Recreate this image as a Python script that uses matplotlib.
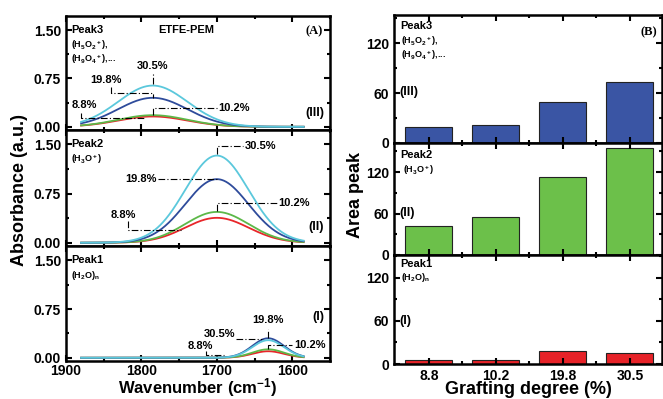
import numpy as np
import matplotlib
matplotlib.use('Agg')
import matplotlib.pyplot as plt
from matplotlib.ticker import MultipleLocator, FixedLocator

plt.rcParams['font.family'] = ['Liberation Sans', 'DejaVu Sans']
plt.rcParams['font.weight'] = 'bold'
plt.rcParams['axes.labelweight'] = 'bold'
plt.rcParams['mathtext.default'] = 'bf'
plt.rcParams['mathtext.fontset'] = 'custom'
plt.rcParams['mathtext.bf'] = 'Liberation Sans:bold'
plt.rcParams['mathtext.rm'] = 'Liberation Sans:bold'

# grafting degrees (%)
grafting = ['8.8', '10.2', '19.8', '30.5']
curve_colors = ['#e8262a', '#5cb848', '#2e4b9b', '#5bc8dc']
bar_colors = {'Peak3': '#3a55a4', 'Peak2': '#6cc04a', 'Peak1': '#e62228'}

# fitted gaussian peaks: centre, width (sigma), heights per grafting degree
peak3_center, peak3_sigma = 1785, 46
peak3_height = [0.16, 0.18, 0.45, 0.64]
peak2_center, peak2_sigma = 1700, 42
peak2_height = [0.38, 0.47, 0.97, 1.33]
peak1_center, peak1_sigma = 1632, 21
peak1_height = [0.10, 0.13, 0.30, 0.27]

# peak areas, panel (B)
area_peak3 = [19, 22, 49, 73]
area_peak2 = [42, 55, 113, 155]
area_peak1 = [6, 6, 18, 15]

wn = np.linspace(1880, 1585, 400)

W, H = 663, 399
fig = plt.figure(figsize=(W / 100, H / 100), dpi=100)


def fpos(x0, y0, x1, y1):
    # pixel box -> figure fraction
    return [x0 / W, 1 - y1 / H, (x1 - x0) / W, (y1 - y0) / H]


def style(ax):
    for s in ax.spines.values():
        s.set_linewidth(1.8)
    ax.tick_params(which='both', direction='in', top=True, right=True, width=1.5, labelsize=10)
    ax.tick_params(which='major', length=4)
    ax.tick_params(which='minor', length=2.5)


def leader(ax, xs, ys):
    ax.plot(xs, ys, color='black', lw=0.8, ls=(0, (6, 2, 1, 2)))


left_boxes = [(66, 16, 330, 130), (66, 130, 330, 246), (66, 246, 330, 361)]
peaks = [(peak3_center, peak3_sigma, peak3_height),
         (peak2_center, peak2_sigma, peak2_height),
         (peak1_center, peak1_sigma, peak1_height)]
axA = []
for box, (c, s, hs) in zip(left_boxes, peaks):
    ax = fig.add_axes(fpos(*box))
    for h, col in zip(hs, curve_colors):
        ax.plot(wn, h * np.exp(-(wn - c) ** 2 / (2 * s ** 2)), color=col, lw=1.3)
    ax.set_xlim(1900, 1550)
    ax.set_ylim(-0.05, 1.72)
    ax.yaxis.set_major_locator(FixedLocator([0, 0.75, 1.5]))
    ax.yaxis.set_minor_locator(FixedLocator([0.375, 1.125]))
    ax.yaxis.set_major_formatter(plt.FuncFormatter(lambda v, _: f'{v:.2f}'))
    ax.xaxis.set_major_locator(MultipleLocator(100))
    ax.xaxis.set_minor_locator(MultipleLocator(50))
    style(ax)
    axA.append(ax)

for ax in axA[:2]:
    ax.tick_params(labelbottom=False)

a3, a2, a1 = axA
a1.tick_params(axis='x', pad=2)
fs = 8
# panel III
a3.text(1893, 1.5, 'Peak3', fontsize=8, va='center')
a3.text(1893, 1.27, r'(H$_5$O$_2$$^+$),', fontsize=6.5, va='center')
a3.text(1893, 1.05, r'(H$_9$O$_4$$^+$),...', fontsize=6.5, va='center')
a3.text(1740, 1.5, 'ETFE-PEM', fontsize=8, ha='center', va='center')
a3.text(1560, 1.48, '(A)', fontsize=9, ha='right', va='center', family='Liberation Serif')
a3.text(1558, 0.22, '(III)', fontsize=9, ha='right', va='center')
leader(a3, [peak3_center] * 2, [peak3_height[3] + 0.03, 0.83])
a3.text(peak3_center, 0.95, '30.5%', fontsize=fs, ha='center', va='center')
leader(a3, [1840, 1840, peak3_center, peak3_center], [0.62, 0.52, 0.52, peak3_height[2]])
a3.text(1847, 0.72, '19.8%', fontsize=fs, ha='center', va='center')
leader(a3, [1880, 1880, 1795], [0.21, 0.14, 0.14])
a3.text(1876, 0.34, '8.8%', fontsize=fs, ha='center', va='center')
leader(a3, [peak3_center, peak3_center, 1700], [peak3_height[1], 0.29, 0.29])
a3.text(1698, 0.29, '10.2%', fontsize=fs, ha='left', va='center')

# panel II
a2.text(1893, 1.5, 'Peak2', fontsize=8, va='center')
a2.text(1893, 1.27, r'(H$_3$O$^+$)', fontsize=6.5, va='center')
a2.text(1558, 0.24, '(II)', fontsize=9, ha='right', va='center')
leader(a2, [peak2_center, peak2_center, 1665], [peak2_height[3] + 0.03, 1.47, 1.47])
a2.text(1663, 1.47, '30.5%', fontsize=fs, ha='left', va='center')
leader(a2, [1778, peak2_center], [peak2_height[2]] * 2)
a2.text(1780, peak2_height[2], '19.8%', fontsize=fs, ha='right', va='center')
leader(a2, [peak2_center, peak2_center, 1620], [peak2_height[1] + 0.01, 0.6, 0.6])
a2.text(1618, 0.6, '10.2%', fontsize=fs, ha='left', va='center')
leader(a2, [1818, 1818, 1748], [0.33, 0.2, 0.2])
a2.text(1824, 0.43, '8.8%', fontsize=fs, ha='center', va='center')

# panel I
a1.text(1893, 1.5, 'Peak1', fontsize=8, va='center')
a1.text(1893, 1.27, r'(H$_2$O)$_n$', fontsize=6.5, va='center')
a1.text(1558, 0.63, '(I)', fontsize=9, ha='right', va='center')
leader(a1, [peak1_center] * 2, [peak1_height[2] + 0.01, 0.44])
a1.text(peak1_center, 0.58, '19.8%', fontsize=fs, ha='center', va='center')
leader(a1, [1675, 1640], [0.29, 0.29])
a1.text(1676, 0.36, '30.5%', fontsize=fs, ha='right', va='center')
leader(a1, [1715, 1715, 1690], [0.1, 0.04, 0.04])
a1.text(1722, 0.18, '8.8%', fontsize=fs, ha='center', va='center')
leader(a1, [peak1_center, peak1_center, 1600], [peak1_height[1], 0.19, 0.19])
a1.text(1598, 0.19, '10.2%', fontsize=fs, ha='left', va='center')

fig.text(198 / W, 0.0, r'Wavenumber (cm$^{\mathregular{-1}}$)', fontsize=12,
         ha='center', va='bottom')
fig.text(20 / W, 1 - 190 / H, 'Absorbance (a.u.)', rotation=90, fontsize=13,
         ha='center', va='center')

# panel (B)
right_boxes = [(394, 15, 662, 143), (394, 143, 662, 255), (394, 255, 662, 364)]
areas = [('Peak3', area_peak3, 154), ('Peak2', area_peak2, 162), ('Peak1', area_peak1, 152)]
axB = []
xpos = np.arange(len(grafting))
for box, (name, vals, top) in zip(right_boxes, areas):
    ax = fig.add_axes(fpos(*box))
    ax.bar(xpos, vals, width=0.7, color=bar_colors[name], edgecolor='#222222', lw=0.8)
    ax.set_xlim(-0.52, 3.48)
    ax.set_ylim(0, top)
    ax.yaxis.set_major_locator(FixedLocator([0, 60, 120]))
    ax.yaxis.set_minor_locator(FixedLocator([30, 90, 150]))
    ax.set_xticks(xpos)
    ax.xaxis.set_minor_locator(FixedLocator(xpos + 0.5))
    style(ax)
    axB.append(ax)

b3, b2, b1 = axB
for ax in (b3, b2):
    ax.tick_params(labelbottom=False)
b1.set_xticklabels(grafting)
b1.set_xlabel('Grafting degree (%)', fontsize=13, labelpad=-1)

b3.text(-0.42, 141, 'Peak3', fontsize=8, va='center')
b3.text(-0.42, 123, r'(H$_5$O$_2$$^+$),', fontsize=6.5, va='center')
b3.text(-0.42, 106, r'(H$_9$O$_4$$^+$),...', fontsize=6.5, va='center')
b3.text(-0.44, 61, '(III)', fontsize=9, va='center')
b3.text(3.4, 133, '(B)', fontsize=9, ha='right', va='center', family='Liberation Serif')
b2.text(-0.42, 145, 'Peak2', fontsize=8, va='center')
b2.text(-0.38, 123, r'(H$_3$O$^+$)', fontsize=6.5, va='center')
b2.text(-0.44, 61, '(II)', fontsize=9, va='center')
b1.text(-0.42, 140, 'Peak1', fontsize=8, va='center')
b1.text(-0.42, 121, r'(H$_2$O)$_n$', fontsize=6.5, va='center')
b1.text(-0.44, 60, '(I)', fontsize=9, va='center')
fig.text(356 / W, 1 - 195 / H, 'Area peak', rotation=90, fontsize=13,
         ha='center', va='center')

fig.savefig('out.png', dpi=100)
